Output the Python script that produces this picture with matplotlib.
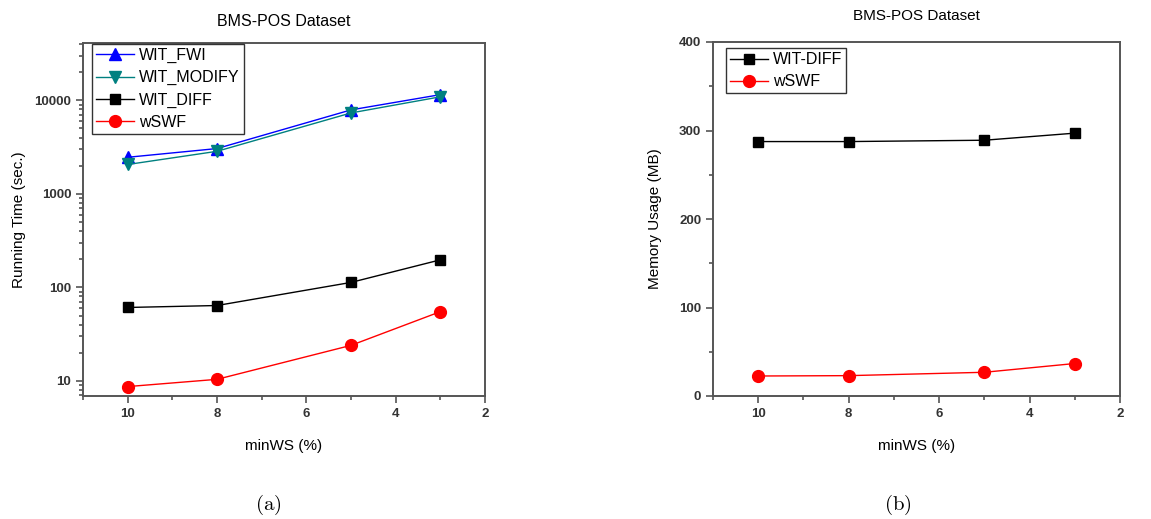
import matplotlib
matplotlib.use('Agg')
import matplotlib.pyplot as plt
from matplotlib.ticker import MultipleLocator, LogLocator, NullFormatter
import numpy as np

plt.rcParams['font.family'] = ['Liberation Sans', 'DejaVu Sans']
plt.rcParams['mathtext.fontset'] = 'cm'

# data
min_ws = [10, 8, 5, 3]

time_fwi = [2460, 3050, 7900, 11500]
time_modify = [2060, 2850, 7330, 10900]
time_diff = [61, 64, 113, 197]
time_wswf = [8.7, 10.4, 24, 55]

mem_diff = [287.5, 287.5, 289, 297]
mem_wswf = [22.6, 23, 26.8, 36.7]

W, H = 1151, 519
fig = plt.figure(figsize=(W / 100, H / 100), dpi=100)

def px_axes(x0, y0, x1, y1):
    return fig.add_axes([x0 / W, 1 - y1 / H, (x1 - x0) / W, (y1 - y0) / H])

spine_col = '#555555'
tick_col = '#333333'


def style(ax):
    for side in ['left', 'right', 'top', 'bottom']:
        ax.spines[side].set_color(spine_col)
        ax.spines[side].set_linewidth(1.4)
    ax.tick_params(which='both', direction='out', color=spine_col, width=1.2,
                   top=False, right=False, labelcolor=tick_col, labelsize=9.5)
    ax.tick_params(which='major', length=5)
    ax.tick_params(which='minor', length=3)
    for lab in ax.get_xticklabels() + ax.get_yticklabels():
        lab.set_fontweight('bold')
    ax.set_xlim(11, 2)
    ax.xaxis.set_major_locator(MultipleLocator(2))
    ax.xaxis.set_minor_locator(MultipleLocator(1))


def add_legend(ax, anchor):
    leg = ax.legend(loc='upper left', bbox_to_anchor=anchor, fontsize=11.5,
                    frameon=True, fancybox=False, borderpad=0.25, labelspacing=0.45,
                    handlelength=2.4, handletextpad=0.3, borderaxespad=0.05)
    leg.get_frame().set_edgecolor('black')
    leg.get_frame().set_linewidth(1.0)
    return leg


# (a) running time
ax1 = px_axes(83, 43, 485, 396)
ax1.plot(min_ws, time_fwi, '-^', color='#0000ff', ms=8.5, lw=1, label='WIT_FWI')
ax1.plot(min_ws, time_modify, '-v', color='#008080', ms=8.5, lw=1, label='WIT_MODIFY')
ax1.plot(min_ws, time_diff, '-s', color='black', ms=7.5, lw=1, label='WIT_DIFF')
ax1.plot(min_ws, time_wswf, '-o', color='#ff0000', ms=8.5, lw=1, label='wSWF')
ax1.set_yscale('log')
ax1.set_ylim(6.9, 41000)
ax1.yaxis.set_minor_locator(LogLocator(base=10, subs=np.arange(2, 10), numticks=10))
ax1.yaxis.set_minor_formatter(NullFormatter())
ax1.set_yticks([10, 100, 1000, 10000])
ax1.set_yticklabels(['10', '100', '1000', '10000'])
style(ax1)
ax1.set_xlabel('minWS (%)', fontsize=11, labelpad=14)
ax1.set_ylabel('Running Time (sec.)', fontsize=11, labelpad=6)
ax1.set_title('BMS-POS Dataset', fontsize=11.5, pad=12)
add_legend(ax1, (0.02, 1.0))

# (b) memory usage
ax2 = px_axes(713, 42, 1120, 396)
ax2.plot(min_ws, mem_diff, '-s', color='black', ms=7.5, lw=1, label='WIT-DIFF')
ax2.plot(min_ws, mem_wswf, '-o', color='#ff0000', ms=8.5, lw=1, label='wSWF')
ax2.set_ylim(0, 400)
ax2.yaxis.set_major_locator(MultipleLocator(100))
ax2.yaxis.set_minor_locator(MultipleLocator(50))
style(ax2)
ax2.set_xlabel('minWS (%)', fontsize=11, labelpad=14)
ax2.set_ylabel('Memory Usage (MB)', fontsize=11, labelpad=12)
ax2.set_title('BMS-POS Dataset', fontsize=11, pad=16)
add_legend(ax2, (0.03, 0.985))

fig.text(268 / W, 1 - 505 / H, r'$\mathrm{(a)}$', ha='center', va='center', fontsize=15)
fig.text(898 / W, 1 - 505 / H, r'$\mathrm{(b)}$', ha='center', va='center', fontsize=15)

fig.savefig('out.png', dpi=100, facecolor='white')
